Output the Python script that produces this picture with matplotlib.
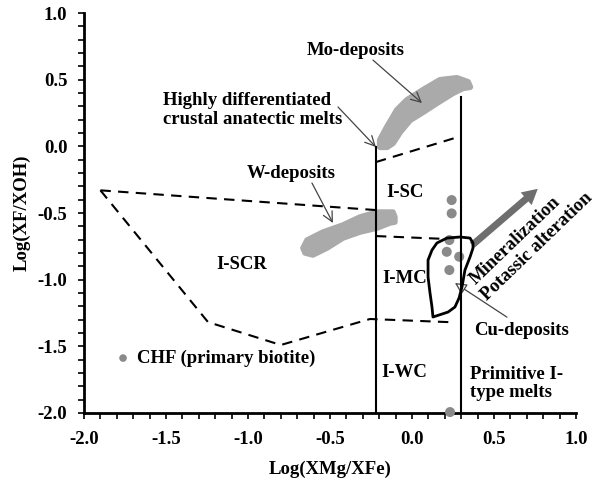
import matplotlib
matplotlib.use('Agg')
import matplotlib.pyplot as plt
from matplotlib.patches import Polygon, FancyArrowPatch
from matplotlib.ticker import MultipleLocator

plt.rcParams['font.family'] = ['Liberation Serif', 'DejaVu Serif']
plt.rcParams['font.weight'] = 'bold'
plt.rcParams['font.size'] = 13.5

# ---- data ----
x_ticks = [-2.0, -1.5, -1.0, -0.5, 0.0, 0.5, 1.0]
y_ticks = [-2.0, -1.5, -1.0, -0.5, 0.0, 0.5, 1.0]

# CHF primary biotite analyses
chf_x = [0.242, 0.242, 0.228, 0.212, 0.288, 0.228, 0.232]
chf_y = [-0.403, -0.503, -0.703, -0.791, -0.828, -0.928, -1.993]

# field boundaries (solid)
left_line_x = [-0.22, -0.22]
left_line_y = [-0.005, -2.0]
right_line_x = [0.30, 0.30]
right_line_y = [0.37, -2.0]

# field boundaries (dashed)
sc_top_x = [-0.22, 0.30]
sc_top_y = [-0.118, 0.077]
scr_top_x = [-1.90, -0.22]
scr_top_y = [-0.33, -0.478]
scr_bot_x = [-1.90, -1.244, -0.80, -0.256, 0.256]
scr_bot_y = [-0.33, -1.318, -1.49, -1.295, -1.32]
mc_top_x = [-0.22, 0.213]
mc_top_y = [-0.673, -0.695]

# deposit fields
mo_x = [-0.195, -0.152, -0.091, -0.030, 0.067, 0.171, 0.274, 0.341, 0.354,
        0.311, 0.250, 0.152, 0.067, -0.012, -0.073, -0.116, -0.152, -0.195]
mo_y = [0.047, 0.145, 0.272, 0.347, 0.422, 0.497, 0.512, 0.482, 0.445,
        0.437, 0.400, 0.325, 0.257, 0.197, 0.107, 0.025, -0.005, -0.005]
w_x = [-0.665, -0.640, -0.543, -0.421, -0.317, -0.213, -0.116, -0.104, -0.104,
       -0.134, -0.213, -0.317, -0.421, -0.518, -0.604, -0.652]
w_y = [-0.763, -0.703, -0.643, -0.590, -0.530, -0.493, -0.493, -0.530, -0.568,
       -0.575, -0.613, -0.643, -0.688, -0.763, -0.815, -0.800]
cu_x = [0.152, 0.213, 0.293, 0.354, 0.372, 0.372, 0.354, 0.323, 0.305, 0.287,
        0.262, 0.220, 0.128, 0.122, 0.110, 0.098, 0.098, 0.122]
cu_y = [-0.725, -0.688, -0.680, -0.688, -0.725, -0.763, -0.830, -0.928, -1.055,
        -1.138, -1.205, -1.243, -1.280, -1.205, -1.100, -0.980, -0.853, -0.778]

# trend arrow
trend_start = (0.354, -0.755)
trend_end = (0.780, -0.305)

# ---- figure ----
fig = plt.figure(figsize=(5.95, 4.80), dpi=100)
ax = fig.add_axes([0.1412, 0.1396, 0.8268, 0.8333])
ax.set_xlim(-2.0, 1.0)
ax.set_ylim(-2.0, 1.0)

for s in ['top', 'right']:
    ax.spines[s].set_visible(False)
for s in ['left', 'bottom']:
    ax.spines[s].set_linewidth(2.0)

ax.set_xticks(x_ticks)
ax.set_yticks(y_ticks)
ax.set_xticklabels([f'{v:.1f}' for v in x_ticks])
ax.set_yticklabels([f'{v:.1f}' for v in y_ticks])
ax.xaxis.set_minor_locator(MultipleLocator(0.1))
ax.yaxis.set_minor_locator(MultipleLocator(0.1))
ax.tick_params(which='both', direction='out', length=4, width=1.2, color='black')
ax.tick_params(axis='x', which='major', pad=9)
ax.tick_params(axis='y', which='major', pad=8)
for lab in ax.get_xticklabels() + ax.get_yticklabels():
    lab.set_fontweight('bold')

ax.set_xlabel('Log(XMg/XFe)', fontweight='bold', labelpad=9)
ax.set_ylabel('Log(XF/XOH)', fontweight='bold', labelpad=5)

# deposit blobs
blob_c = '#aaaaaa'
ax.add_patch(Polygon(list(zip(mo_x, mo_y)), closed=True, fc=blob_c, ec=blob_c,
                     lw=4.5, joinstyle='round', zorder=1))
ax.add_patch(Polygon(list(zip(w_x, w_y)), closed=True, fc=blob_c, ec=blob_c,
                     lw=4, joinstyle='round', zorder=1))

# points
ax.scatter(chf_x, chf_y, s=52, c='#8a8a8a', edgecolors='none', zorder=3, clip_on=False)

# solid boundaries
ax.plot(left_line_x, left_line_y, color='black', lw=1.5, zorder=4)
ax.plot(right_line_x, right_line_y, color='black', lw=1.5, zorder=4)

# dashed boundaries
dash = dict(color='black', lw=1.5, dashes=(5, 3.5), zorder=4)
ax.plot(sc_top_x, sc_top_y, **dash)
ax.plot(scr_top_x, scr_top_y, **dash)
ax.plot(scr_bot_x, scr_bot_y, **dash)
ax.plot(mc_top_x, mc_top_y, **dash)

# Cu contour
ax.add_patch(Polygon(list(zip(cu_x, cu_y)), closed=True, fill=False, ec='black',
                     lw=2.0, joinstyle='round', zorder=5))

# trend arrow
ax.add_patch(FancyArrowPatch(trend_start, trend_end,
                             arrowstyle='simple,head_length=1.1,head_width=1.2,tail_width=0.5',
                             mutation_scale=10, color='#6e6e6e', lw=0, zorder=2))

# labels and pointer arrows
arr = dict(arrowstyle='->,head_length=0.7,head_width=0.35', color='#444444', lw=0.9,
           mutation_scale=10, shrinkA=0, shrinkB=0)
ax.text(-0.341, 0.722, 'Mo-deposits', ha='center', va='center')
ax.annotate('', xy=(0.061, 0.325), xytext=(-0.238, 0.647), arrowprops=arr)

ax.text(-1.52, 0.275, 'Highly differentiated\ncrustal anatectic melts', ha='left',
        va='center', linespacing=1.15)
ax.annotate('', xy=(-0.22, -0.005), xytext=(-0.451, 0.295), arrowprops=arr)

ax.text(-0.738, -0.20, 'W-deposits', ha='center', va='center')
ax.annotate('', xy=(-0.482, -0.575), xytext=(-0.610, -0.275), arrowprops=arr)

ax.text(0.671, -1.378, 'Cu-deposits', ha='center', va='center')
arr_cu = dict(arrowstyle='-|>,head_length=0.7,head_width=0.35', color='#444444',
              fc='white', lw=0.9, mutation_scale=10, shrinkA=0, shrinkB=0)
ax.annotate('', xy=(0.262, -1.025), xytext=(0.579, -1.281), arrowprops=arr_cu)

ax.text(-0.043, -0.343, 'I-SC', ha='center', va='center')
ax.text(-1.037, -0.890, 'I-SCR', ha='center', va='center')
ax.text(-0.045, -0.995, 'I-MC', ha='center', va='center')
ax.text(-0.045, -1.70, 'I-WC', ha='center', va='center')
ax.text(0.354, -1.78, 'Primitive I-\ntype melts', ha='left', va='center', linespacing=1.1)

ax.text(0.628, -0.703, 'Mineralization', rotation=44, rotation_mode='anchor',
        ha='center', va='center')
ax.text(0.762, -0.748, 'Potassic alteration', rotation=44, rotation_mode='anchor',
        ha='center', va='center')

# legend entry
ax.scatter([-1.762], [-1.588], s=30, c='#8a8a8a', edgecolors='none', zorder=3)
ax.text(-1.677, -1.588, 'CHF (primary biotite)', ha='left', va='center')

fig.savefig('out.png', dpi=100)
